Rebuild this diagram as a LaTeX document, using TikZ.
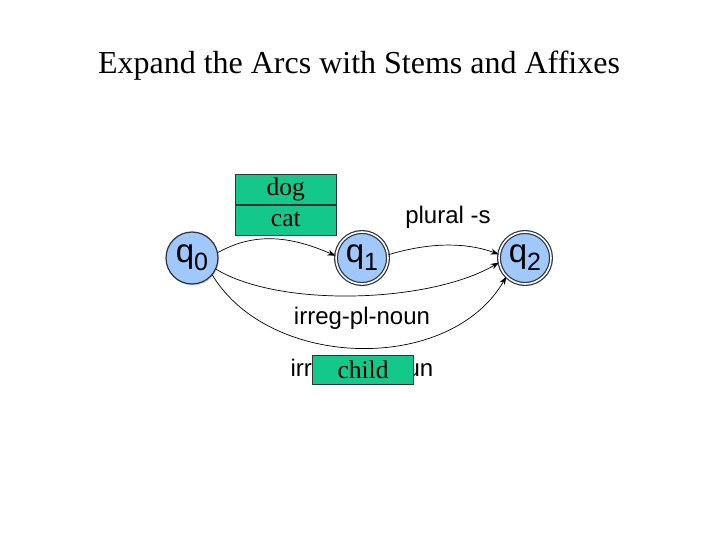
\documentclass[tikz,border=0pt]{standalone}
\usepackage{fontspec}
\setmainfont{Liberation Serif}
\setsansfont{Liberation Sans}
\usetikzlibrary{arrows.meta,shadows}
\definecolor{boxgreen}{RGB}{20,200,140}
\definecolor{stfill}{RGB}{160,200,250}
\definecolor{stline}{RGB}{40,50,65}
\tikzset{
  state/.style={circle, minimum size=52pt, inner sep=0pt, fill=stfill, draw=stline, line width=1.2pt,
     drop shadow={shadow xshift=1pt, shadow yshift=-1.5pt, opacity=0.35}},
  accstate/.style={state, double=white, double distance=1.6pt},
  stem/.style={draw=black!80, fill=boxgreen, line width=0.6pt, minimum width=101pt, minimum height=30pt, inner sep=0pt, font=\fontsize{25.5}{27}\selectfont},
  arc/.style={-{Stealth[length=8pt,width=6pt]}, line width=0.7pt},
  lab/.style={font=\sffamily\fontsize{24}{27}\selectfont, inner sep=0pt}
}
\newcommand{\qlab}[1]{\sffamily\fontsize{33}{33}\selectfont q\raisebox{-8pt}{\fontsize{25}{25}\selectfont #1}}
\begin{document}
\begin{tikzpicture}[x=1pt,y=-1pt]
\useasboundingbox (0,0) rectangle (720,540);
\node (title) at (359,66) {\fontsize{32}{36}\selectfont Expand the Arcs with Stems and Affixes};
\node[state] (q0) at (192,258) {\raisebox{-4pt}{\qlab{0}}};
\node[accstate] (q1) at (362,258) {\raisebox{-4pt}{\qlab{1}}};
\node[accstate] (q2) at (525,258) {\raisebox{-4pt}{\qlab{2}}};
\draw[arc] (q0.12) .. controls (255,232) and (290,236) .. (q1.175);
\draw[arc] (q1.7) .. controls (420,245) and (460,240) .. (q2.172);
\draw[arc] (q0.-25) .. controls (280,308) and (430,303) .. (q2.-170);
\draw[arc] (q0.-40) .. controls (270,370) and (450,374) .. (q2.-135);
\node[lab] (plural) at (448,217) {plural -s};
\node[lab] (irrpl) at (362,318) {irreg-pl-noun};
\node[lab] (irrsg) at (362,370) {irreg-sg-noun};
\node[stem, anchor=north west] (dog) at (235,174) {dog};
\node[stem, anchor=north] (cat) at (dog.south) {cat};
\node[stem, minimum height=29pt] (child) at (363,369.5) {child};
\end{tikzpicture}
\end{document}
